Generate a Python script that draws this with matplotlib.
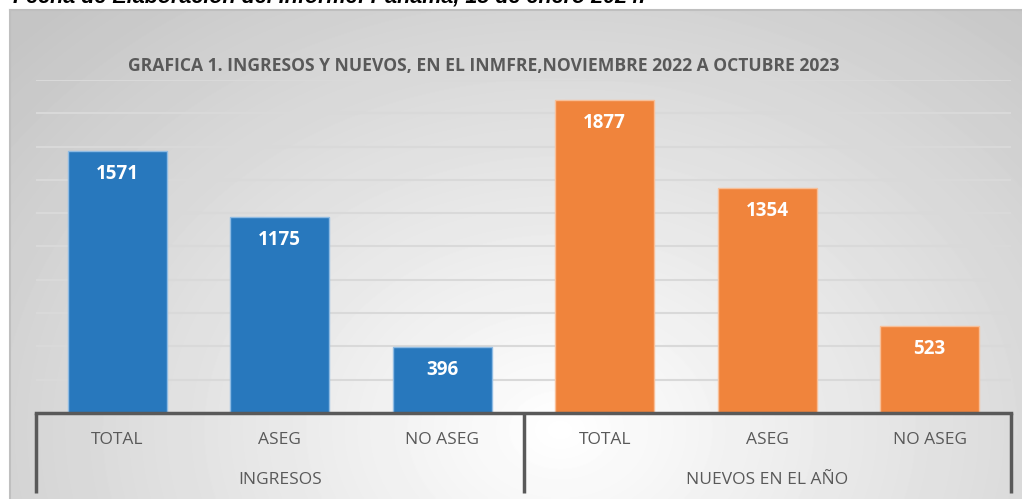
import numpy as np
import matplotlib
matplotlib.use('Agg')
import matplotlib.pyplot as plt
from matplotlib.transforms import blended_transform_factory

categories = ['TOTAL', 'ASEG', 'NO ASEG', 'TOTAL', 'ASEG', 'NO ASEG']
values = [1571, 1175, 396, 1877, 1354, 523]
groups = ['INGRESOS', 'NUEVOS EN EL AÑO']
group_sizes = [3, 3]
group_colors = ['#2878bd', '#f0843c']
group_edges = ['#8fbbe3', '#f8bf98']
title = 'GRAFICA 1. INGRESOS Y NUEVOS, EN EL INMFRE,NOVIEMBRE 2022 A OCTUBRE 2023'
header = 'Fecha de Elaboración del Informe: Panamá, 15 de enero 2024.'

W, H = 1022, 499
plt.rcParams['font.family'] = ['Open Sans', 'DejaVu Sans']
fig = plt.figure(figsize=(W / 100, H / 100), dpi=100)
fig.patch.set_facecolor('white')

# grey panel with a soft radial highlight
bg = fig.add_axes([10 / W, 0, 1 - 10 / W, (H - 10) / H])
yy, xx = np.mgrid[10:H, 10:W]
d = np.sqrt(((xx - 560) / 650.0) ** 2 + ((yy - 430) / 500.0) ** 2)
shade = np.clip(1.0 - 0.2 * d, 0.77, 1.0)
bg.imshow(shade, cmap='gray', vmin=0, vmax=1, aspect='auto',
          interpolation='bilinear')
bg.set_xticks([])
bg.set_yticks([])
for side in ['right', 'bottom']:
    bg.spines[side].set_visible(False)
for side in ['left', 'top']:
    bg.spines[side].set_color('#bfbfbf')
    bg.spines[side].set_linewidth(1.5)

ax = fig.add_axes([36 / W, (H - 413) / H, 975 / W, 333 / H])
ax.set_facecolor('none')

colors, edges = [], []
for c, e, n in zip(group_colors, group_edges, group_sizes):
    colors += [c] * n
    edges += [e] * n

x = np.arange(len(categories))
ax.bar(x, values, width=0.61, color=colors, edgecolor=edges, linewidth=1,
       zorder=3)
for xi, v in zip(x, values):
    ax.annotate(str(v), (xi, v), xytext=(0, -23), textcoords='offset pixels',
                ha='center', va='center', color='white', fontsize=13.5,
                fontweight='bold', zorder=4)

ax.set_xlim(-0.5, len(categories) - 0.5)
ax.set_ylim(0, 2000)
ax.set_yticks(np.arange(200, 2001, 200))
ax.yaxis.grid(True, color='#d9d9d9', linewidth=1.5, zorder=0)
ax.set_axisbelow(True)
ax.tick_params(left=False, labelleft=False, bottom=False, labelbottom=False)
for side in ['left', 'right', 'top']:
    ax.spines[side].set_visible(False)
ax.spines['bottom'].set_color('#595959')
ax.spines['bottom'].set_linewidth(2.5)
ax.spines['bottom'].set_zorder(5)

# multi-level category axis
trans = blended_transform_factory(ax.transData, ax.transAxes)
for xi, lab in zip(x, categories):
    ax.text(xi, -27 / 333, lab, transform=trans, ha='center', va='center',
            fontsize=12.5, color='#595959')
start = 0
bounds = [-0.5]
for g, n in zip(groups, group_sizes):
    mid = start + (n - 1) / 2
    ax.text(mid, -67 / 333, g, transform=trans, ha='center', va='center',
            fontsize=12.5, color='#595959')
    start += n
    bounds.append(start - 0.5)
for b in bounds:
    ax.plot([b, b], [0, -80 / 333], transform=trans, clip_on=False,
            color='#595959', linewidth=2.5, solid_capstyle='butt')

fig.text(484 / W, 1 - 66 / H, title, ha='center', va='center',
         fontsize=12.6, fontweight='bold', color='#595959')
# header line of the page, cut by the top edge as in the source
fig.text(13 / W, 1 - 3 / H, header, ha='left', va='baseline',
         fontsize=15.5, fontweight='bold', fontstyle='italic',
         family=['Liberation Sans', 'DejaVu Sans'], color='black')

fig.savefig('out.png', dpi=100)
